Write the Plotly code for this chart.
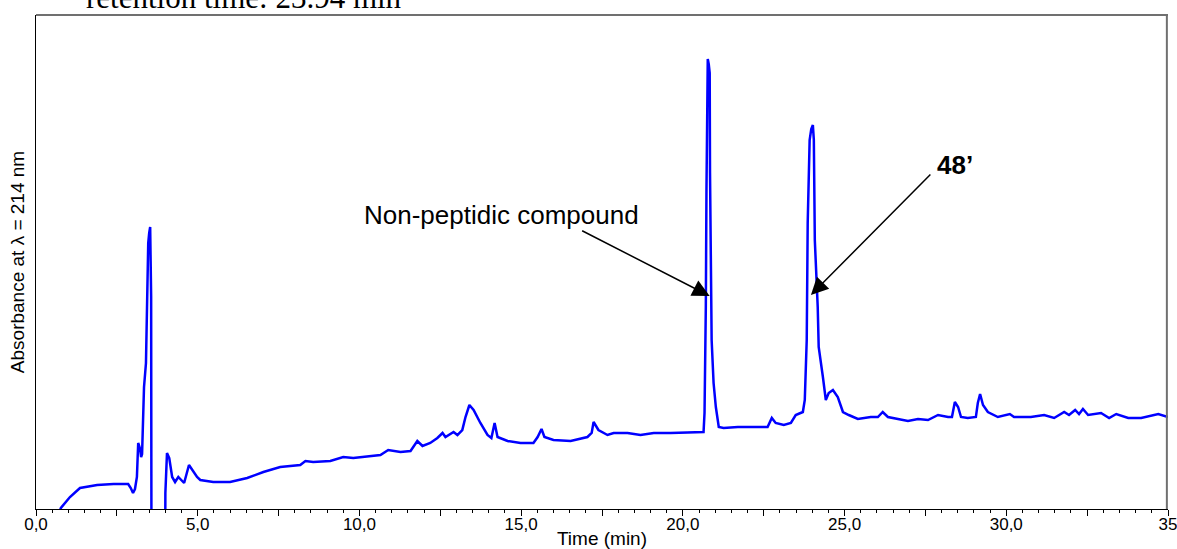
import plotly.graph_objects as go

# Chromatogram (time in min, absorbance in arbitrary units)
time_min = [0.70, 0.77, 1.05, 1.36, 1.89, 2.40, 2.85, 2.93, 3.00, 3.06, 3.12, 3.16, 3.22, 3.25, 3.28,
            3.31, 3.34, 3.40, 3.44, 3.47, 3.50, 3.53, 3.56, 3.58, 3.97, 4.00, 4.05, 4.12, 4.21,
            4.30, 4.40, 4.58, 4.73, 4.98, 5.08, 5.48, 6.00, 6.53, 7.03, 7.55, 8.17, 8.33, 8.57,
            9.10, 9.50, 9.81, 10.65, 10.89, 11.27, 11.58, 11.79, 11.95, 12.19, 12.41, 12.57,
            12.66, 12.91, 13.03, 13.18, 13.28, 13.40, 13.53, 13.74, 13.96, 14.08, 14.18, 14.27,
            14.58, 14.98, 15.38, 15.51, 15.63, 15.72, 16.00, 16.53, 17.05, 17.18, 17.24, 17.39,
            17.67, 17.86, 18.29, 18.69, 19.10, 19.62, 20.24, 20.64, 20.67, 20.71, 20.73, 20.77,
            20.80, 20.83, 20.84, 20.86, 20.89, 20.95, 21.02, 21.11, 21.26, 21.70, 22.32, 22.62,
            22.75, 22.87, 23.12, 23.34, 23.49, 23.71, 23.77, 23.83, 23.86, 23.92, 23.97, 24.02,
            24.05, 24.08, 24.17, 24.20, 24.33, 24.42, 24.51, 24.64, 24.79, 24.95, 25.13, 25.41,
            25.81, 26.03, 26.18, 26.34, 26.65, 26.96, 27.27, 27.58, 27.89, 28.20, 28.32, 28.41,
            28.51, 28.60, 28.81, 29.06, 29.12, 29.19, 29.28, 29.43, 29.74, 30.11, 30.24, 30.76,
            31.17, 31.48, 31.79, 31.94, 32.13, 32.25, 32.37, 32.53, 32.93, 33.18, 33.40, 33.77,
            34.17, 34.70, 35.00]
absorbance = [-5, 1, 12, 21, 24, 25, 25, 21, 16, 20, 32, 66, 60, 52, 55,
              82, 122, 146, 209, 266, 276, 282, 212, -300, -300, 16, 56, 51, 32,
              27, 32, 26, 44, 32, 29, 27, 27, 31, 37, 42, 44, 48, 47,
              48, 52, 51, 54, 59, 57, 58, 68, 63, 66, 71, 76,
              72, 77, 74, 79, 92, 104, 99, 86, 74, 71, 86, 72,
              68, 66, 66, 72, 80, 72, 69, 68, 72, 76, 87, 79,
              74, 76, 76, 74, 76, 76, 77, 77, 96, 202, 319, 450,
              445, 436, 336, 269, 169, 126, 102, 82, 81, 82, 82, 82,
              91, 86, 84, 86, 94, 97, 109, 169, 286, 369, 380, 384,
              369, 269, 202, 162, 132, 109, 116, 119, 112, 97, 94, 90,
              92, 92, 97, 92, 90, 88, 90, 89, 94, 92, 92, 107,
              102, 92, 91, 92, 106, 115, 104, 97, 92, 95, 92, 92,
              94, 91, 97, 94, 99, 95, 100, 94, 96, 91, 95, 91,
              91, 95, 92]

major_ticks = [0, 2.5, 5, 7.5, 10, 12.5, 15, 17.5, 20, 22.5, 25, 27.5, 30, 32.5, 35]
major_labels = ["0,0", "", "5,0", "", "10,0", "", "15,0", "", "20,0", "", "25,0", "", "30,0", "", "35"]

fig = go.Figure()
fig.add_trace(go.Scatter(x=time_min, y=absorbance, mode="lines",
                         line=dict(color="#0000FF", width=2.5), showlegend=False))

fig.update_layout(
    width=1177, height=549,
    margin=dict(l=36, r=9, t=15, b=40),
    paper_bgcolor="white", plot_bgcolor="white",
    font=dict(family="Liberation Sans, Arial", color="black"),
    xaxis=dict(range=[0, 35.0001], tickmode="array", tickvals=major_ticks, ticktext=major_labels,
               ticks="outside", ticklen=6, tickwidth=1, tickcolor="black",
               minor=dict(dtick=0.5, tick0=0, ticks="outside", ticklen=3, tickcolor="black"),
               showline=True, linecolor="black", linewidth=1, showgrid=False, zeroline=False,
               automargin=False, ticklabeloverflow="allow", ticklabelstandoff=-6,
               tickfont=dict(size=17), title=dict(text="Time (min)", font=dict(size=19), standoff=4)),
    yaxis=dict(range=[0, 494], showticklabels=False, ticks="", showgrid=False, zeroline=False,
               showline=True, linecolor="black", linewidth=1, automargin=False,
               title=dict(text="Absorbance at λ = 214 nm", font=dict(size=19), standoff=5)),
    shapes=[
        dict(type="line", xref="paper", yref="paper", x0=0, x1=1, y0=1, y1=1,
             line=dict(color="#707070", width=2)),
        dict(type="line", xref="paper", yref="paper", x0=0.999, x1=0.999, y0=0, y1=1,
             line=dict(color="#707070", width=2)),
    ],
    annotations=[
        dict(text="retention time: 23.94 min", xref="paper", yref="paper", x=0.042, y=1,
             xanchor="left", yanchor="bottom", showarrow=False, yshift=-2,
             font=dict(family="Liberation Serif, Times New Roman", size=31, color="black")),
        dict(text="Non-peptidic compound", x=14.38, y=294, xref="x", yref="y",
             showarrow=False, font=dict(size=26, color="black"),
             xanchor="center", yanchor="middle"),
        dict(text="", x=20.83, y=213, xref="x", yref="y",
             ax=16.84, ay=279, axref="x", ayref="y", showarrow=True, arrowhead=2,
             arrowsize=2.3, arrowwidth=1.5, arrowcolor="black", standoff=0, startstandoff=0),
        dict(text="<b>48’</b>", x=28.42, y=344, xref="x", yref="y",
             showarrow=False, font=dict(size=26, color="black"),
             xanchor="center", yanchor="middle"),
        dict(text="", x=23.96, y=214, xref="x", yref="y",
             ax=27.70, ay=336, axref="x", ayref="y", showarrow=True, arrowhead=2,
             arrowsize=2.3, arrowwidth=1.5, arrowcolor="black", standoff=0, startstandoff=0),
    ],
)

fig.write_html("out.html", config={"displayModeBar": False},
               post_script="document.body.style.margin='0';document.body.style.overflow='hidden';")
